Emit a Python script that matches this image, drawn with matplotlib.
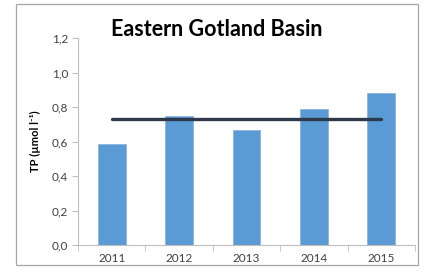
import matplotlib
matplotlib.use("Agg")
import matplotlib.pyplot as plt
from matplotlib.patches import Rectangle
import numpy as np

# data
years = ["2011", "2012", "2013", "2014", "2015"]
tp_values = [0.586, 0.751, 0.666, 0.788, 0.881]
mean_tp = 0.733
yticks = [0.0, 0.2, 0.4, 0.6, 0.8, 1.0, 1.2]

plt.rcParams['font.family'] = ['Lato', 'DejaVu Sans']

fig = plt.figure(figsize=(4.24, 2.72), dpi=100)
fig.patch.set_facecolor('white')

# outer grey frame like the spreadsheet chart box
fig.patches.append(Rectangle((16/424, 1 - 265/272), 402/424, 261/272,
                             transform=fig.transFigure, fill=False,
                             edgecolor='#a6a6a6', linewidth=0.9))

ax = fig.add_axes([78/424, 1 - 245/272, 337/424, (245 - 38.3)/272])
x = np.arange(len(years))
ax.bar(x, tp_values, width=0.41, color='#5b9bd5', edgecolor='#8fb4dc', linewidth=0.6, zorder=2)
ax.plot([x[0], x[-1]], [mean_tp, mean_tp], color='#2e3a4c', linewidth=2.4,
        solid_capstyle='round', zorder=3)

ax.set_xlim(-0.5, len(years) - 0.5)
ax.set_ylim(0, 1.2)
ax.set_yticks(yticks)
ax.set_yticklabels([f"{v:.1f}".replace('.', ',') for v in yticks], fontsize=8.5, color='#404040')
ax.set_xticks(x)
ax.set_xticklabels(years, fontsize=8.5, color='#404040')
ax.tick_params(axis='x', length=0, pad=6)
# category boundary ticks on the x axis
ax.set_xticks(np.arange(-0.5, len(years), 1.0), minor=True)
ax.tick_params(axis='x', which='minor', length=4, color='#bfbfbf', direction='out')
ax.tick_params(axis='y', length=4, color='#bfbfbf', direction='out', pad=3)

for s in ['top', 'right']:
    ax.spines[s].set_visible(False)
ax.spines['left'].set_color('#bfbfbf')
ax.spines['bottom'].set_color('#bfbfbf')

ax.set_ylabel("TP (µmol l⁻¹)", fontsize=8, fontweight='bold', labelpad=8)
fig.text(217/424, 1 - 30/272, "Eastern Gotland Basin", fontsize=15.5, fontweight='bold',
         ha='center', va='center', color='black')

fig.savefig("out.png", dpi=100)
